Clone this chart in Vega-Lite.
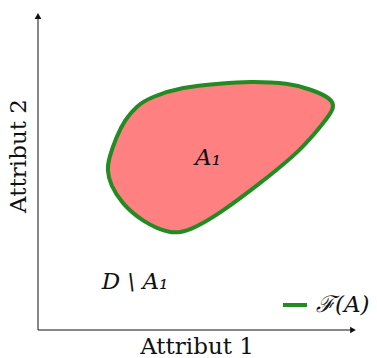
{
  "$schema": "https://vega.github.io/schema/vega-lite/v6.json",
  "width": 377,
  "height": 358,
  "padding": 0,
  "autosize": {"type": "none"},
  "background": "white",
  "config": {"view": {"stroke": null}},
  "datasets": {
    "shape": [
      {"i": 0, "x": 183, "y": 246.5},
      {"i": 1, "x": 144, "y": 243},
      {"i": 2, "x": 113, "y": 233},
      {"i": 3, "x": 99, "y": 224.5},
      {"i": 4, "x": 87, "y": 210.5},
      {"i": 5, "x": 78, "y": 192.5},
      {"i": 6, "x": 71, "y": 172},
      {"i": 7, "x": 69, "y": 160},
      {"i": 8, "x": 72.5, "y": 145},
      {"i": 9, "x": 83.5, "y": 127},
      {"i": 10, "x": 104, "y": 108.5},
      {"i": 11, "x": 133, "y": 95.5},
      {"i": 12, "x": 151, "y": 99},
      {"i": 13, "x": 180.5, "y": 115.5},
      {"i": 14, "x": 222, "y": 146.5},
      {"i": 15, "x": 264.5, "y": 181},
      {"i": 16, "x": 287, "y": 209},
      {"i": 17, "x": 297.5, "y": 223},
      {"i": 18, "x": 292, "y": 232.5},
      {"i": 19, "x": 273, "y": 240.5},
      {"i": 20, "x": 251, "y": 247},
      {"i": 21, "x": 211, "y": 248.5}
    ],
    "axes": [
      {"x": 0, "y": 0, "x2": 0, "y2": 312},
      {"x": 0, "y": 0, "x2": 313, "y2": 0}
    ],
    "arrowUp": [{"x": 0, "y": 314}],
    "arrowRight": [{"x": 315, "y": 0}],
    "titles": [{"x": 159, "y": -17, "label": "Attribut 1"}],
    "titlesV": [{"x": -19, "y": 174, "label": "Attribut 2"}],
    "math": [
      {"x": 170, "y": 172, "label": "A₁"},
      {"x": 97, "y": 48, "label": "D \\ A₁"}
    ],
    "legendLine": [{"x": 245, "x2": 269, "y": 25}],
    "legendText": [{"x": 278, "y": 25, "label": "ℱ(A)"}]
  },
  "layer": [
    {
      "data": {"name": "shape"},
      "mark": {"type": "line", "interpolate": "basis-closed", "fill": "#ff8080", "stroke": "#228b22", "strokeWidth": 4},
      "encoding": {
        "x": {"field": "x", "type": "quantitative", "scale": {"domain": [-38, 339], "nice": false, "zero": false}, "axis": null},
        "y": {"field": "y", "type": "quantitative", "scale": {"domain": [-28, 330], "nice": false, "zero": false}, "axis": null},
        "order": {"field": "i", "type": "quantitative"}
      }
    },
    {
      "data": {"name": "axes"},
      "mark": {"type": "rule", "color": "#111", "strokeWidth": 1},
      "encoding": {
        "x": {"field": "x", "type": "quantitative"},
        "y": {"field": "y", "type": "quantitative"},
        "x2": {"field": "x2"},
        "y2": {"field": "y2"}
      }
    },
    {
      "data": {"name": "arrowUp"},
      "mark": {"type": "point", "shape": "triangle-up", "filled": true, "color": "#111", "size": 45, "opacity": 1},
      "encoding": {
        "x": {"field": "x", "type": "quantitative"},
        "y": {"field": "y", "type": "quantitative"}
      }
    },
    {
      "data": {"name": "arrowRight"},
      "mark": {"type": "point", "shape": "triangle-right", "filled": true, "color": "#111", "size": 45, "opacity": 1},
      "encoding": {
        "x": {"field": "x", "type": "quantitative"},
        "y": {"field": "y", "type": "quantitative"}
      }
    },
    {
      "data": {"name": "titles"},
      "mark": {"type": "text", "font": "DejaVu Serif", "fontSize": 23, "baseline": "middle", "align": "center", "color": "#111"},
      "encoding": {
        "x": {"field": "x", "type": "quantitative"},
        "y": {"field": "y", "type": "quantitative"},
        "text": {"field": "label"}
      }
    },
    {
      "data": {"name": "titlesV"},
      "mark": {"type": "text", "font": "DejaVu Serif", "fontSize": 23, "baseline": "middle", "align": "center", "angle": 270, "color": "#111"},
      "encoding": {
        "x": {"field": "x", "type": "quantitative"},
        "y": {"field": "y", "type": "quantitative"},
        "text": {"field": "label"}
      }
    },
    {
      "data": {"name": "math"},
      "mark": {"type": "text", "font": "DejaVu Serif", "fontSize": 23, "fontStyle": "italic", "baseline": "middle", "align": "center", "color": "#111"},
      "encoding": {
        "x": {"field": "x", "type": "quantitative"},
        "y": {"field": "y", "type": "quantitative"},
        "text": {"field": "label"}
      }
    },
    {
      "data": {"name": "legendLine"},
      "mark": {"type": "rule", "color": "#228b22", "strokeWidth": 4},
      "encoding": {
        "x": {"field": "x", "type": "quantitative"},
        "x2": {"field": "x2"},
        "y": {"field": "y", "type": "quantitative"}
      }
    },
    {
      "data": {"name": "legendText"},
      "mark": {"type": "text", "font": "DejaVu Serif", "fontSize": 23, "fontStyle": "italic", "baseline": "middle", "align": "left", "color": "#111"},
      "encoding": {
        "x": {"field": "x", "type": "quantitative"},
        "y": {"field": "y", "type": "quantitative"},
        "text": {"field": "label"}
      }
    }
  ]
}
